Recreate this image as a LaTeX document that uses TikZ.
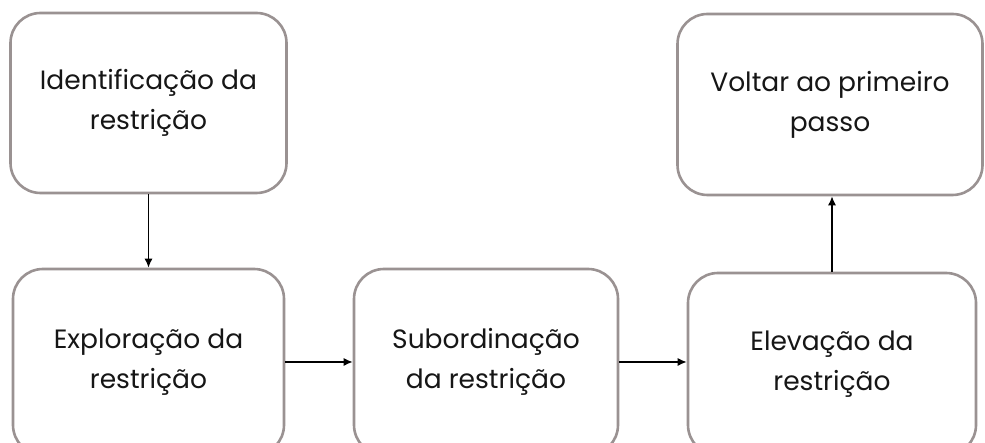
\documentclass[tikz,border=0pt]{standalone}
\usepackage{fontspec}
\setmainfont{Poppins}
\usetikzlibrary{arrows.meta}
\definecolor{boxline}{HTML}{9A9292}
\definecolor{ink}{HTML}{161616}
\tikzset{
  stepbox/.style={draw=boxline, line width=2.6pt, rounded corners=30pt,
    fill=white, align=center, inner sep=0pt, text=ink,
    font=\fontsize{26.5}{40}\selectfont},
  flow/.style={-{Latex[length=9pt,width=8pt]}, line width=1.4pt, draw=black}
}
\begin{document}
\begin{tikzpicture}[x=1pt,y=1pt]
  \useasboundingbox (0,0) rectangle (985,443);
  \fill[white] (0,0) rectangle (985,443);
  \begin{scope}
    \clip (0,0) rectangle (985,443);
    \node[stepbox, minimum width=276pt, minimum height=180pt] (ident) at (148.5,340) {Identificação da\\restrição};
    \node[stepbox, minimum width=305pt, minimum height=181pt] (voltar) at (830,338.5) {Voltar ao primeiro\\passo};
    \node[stepbox, minimum width=271pt, minimum height=186pt] (explo) at (148.5,81) {Exploração da\\restrição};
    \node[stepbox, minimum width=264pt, minimum height=186pt] (subor) at (486,81) {Subordinação\\da restrição};
    \node[stepbox, minimum width=288pt, minimum height=182pt] (eleva) at (832,79) {Elevação da\\restrição};
    \draw[flow] (ident.south) -- (explo.north);
    \draw[flow] (explo.east |- 0,81) -- (subor.west |- 0,81);
    \draw[flow] (subor.east |- 0,81) -- (eleva.west |- 0,81);
    \draw[flow] (eleva.north) -- (voltar.south -| eleva.north);
  \end{scope}
\end{tikzpicture}
\end{document}
